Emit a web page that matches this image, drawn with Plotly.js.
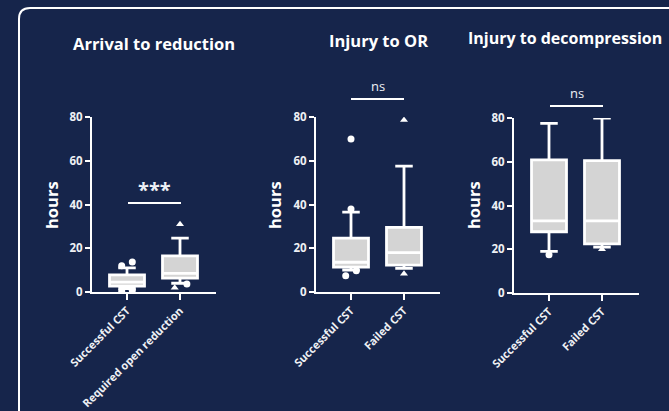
<!DOCTYPE html>
<html><head><meta charset="utf-8">
<script src="https://cdn.plot.ly/plotly-3.0.1.min.js"></script>
<style>html,body{margin:0;padding:0;background:#16254b;}#c{width:669px;height:411px;}</style>
</head><body><div id="c"></div>
<script>
// ---- data ----
const titles = ["Arrival to reduction", "Injury to OR", "Injury to decompression"];
const cats1 = ["Successful CST", "Required open reduction"];
const cats2 = ["Successful CST", "Failed CST"];
const cats3 = ["Successful CST", "Failed CST"];
const sig = ["***", "ns", "ns"];

// box statistics per panel: [group0, group1]
const q1_1 = [2.7, 6.3],  med1 = [4.5, 8.5],  q3_1 = [7.8, 16.5],  lo1 = [1.5, 4.0],  hi1 = [11.0, 24.6];
const q1_2 = [11.4, 12.3], med2 = [13.6, 18.0], q3_2 = [24.6, 29.5], lo2 = [10.0, 10.8], hi2 = [36.5, 57.5];
const q1_3 = [28.0, 22.5], med3 = [33.0, 33.0], q3_3 = [60.9, 60.5], lo3 = [19.0, 21.0], hi3 = [77.5, 80.0];

// outliers: group index, small horizontal jitter, value, symbol
const out1G = [0, 0, 0, 0, 1, 1, 1];
const out1J = [-0.1, 0.1, -0.1, 0.1, 0, 0.13, -0.1];
const out1V = [12.0, 13.7, 0.5, 0.8, 31.0, 3.7, 2.0];
const out1S = ["circle","circle","circle","circle","triangle-up","circle","triangle-up"];

const out2G = [0, 0, 0, 0, 1, 1];
const out2J = [0, 0, -0.1, 0.1, 0, 0];
const out2V = [70.0, 38.0, 7.4, 9.7, 78.6, 8.3];
const out2S = ["circle","circle","circle","circle","triangle-up","triangle-up"];

const out3G = [0, 1];
const out3J = [0, 0];
const out3V = [17.5, 20.0];
const out3S = ["circle","triangle-up"];

// ---- layout helpers ----
const W = 669, H = 411;
const px = x => x / W, py = y => 1 - y / H;
const WHITE = "#ffffff", TXT = "#eef0f4", BG = "#16254b";

const panels = [
  {cats: cats1, q1: q1_1, med: med1, q3: q3_1, lo: lo1, hi: hi1, oG: out1G, oJ: out1J, oV: out1V, oS: out1S,
   x0: 92, x1: 216, yTop: 117, yBot: 292, cx: [127, 180]},
  {cats: cats2, q1: q1_2, med: med2, q3: q3_2, lo: lo2, hi: hi2, oG: out2G, oJ: out2J, oV: out2V, oS: out2S,
   x0: 316, x1: 440, yTop: 117, yBot: 292, cx: [351, 404]},
  {cats: cats3, q1: q1_3, med: med3, q3: q3_3, lo: lo3, hi: hi3, oG: out3G, oJ: out3J, oV: out3V, oS: out3S,
   x0: 514, x1: 639, yTop: 118, yBot: 293, cx: [549, 602]}
];

const traces = [];
const layout = {
  width: W, height: H, margin: {l: 0, r: 0, t: 0, b: 0},
  paper_bgcolor: BG, plot_bgcolor: "rgba(0,0,0,0)",
  showlegend: false, annotations: [], shapes: [],
  font: {family: "Open Sans, sans-serif", color: TXT}
};

panels.forEach((p, i) => {
  const n = i === 0 ? "" : String(i + 1);
  const xa = "x" + n, ya = "y" + n;
  const k = p.cx[1] - p.cx[0];
  const r0 = -(p.cx[0] - p.x0) / k;
  const r1 = r0 + (p.x1 - p.x0) / k;
  traces.push({
    type: "box", xaxis: xa, yaxis: ya, x: [0, 1],
    q1: p.q1, median: p.med, q3: p.q3, lowerfence: p.lo, upperfence: p.hi,
    width: 0.66, whiskerwidth: 0.5, fillcolor: "#d4d4d4",
    line: {color: WHITE, width: 2.8}, boxpoints: false, hoverinfo: "skip"
  });
  traces.push({
    type: "scatter", mode: "markers", xaxis: xa, yaxis: ya,
    x: p.oG.map((g, j) => g + p.oJ[j]), y: p.oV,
    marker: {color: WHITE, size: 7, symbol: p.oS, line: {width: 0}}, hoverinfo: "skip"
  });
  layout["xaxis" + n] = {
    domain: [px(p.x0), px(p.x1)], anchor: ya, range: [r0, r1],
    tickvals: [0, 1], ticktext: p.cats, tickangle: -45,
    showgrid: false, zeroline: false, showline: true, linecolor: WHITE, linewidth: 2,
    ticks: "outside", ticklen: 6, tickwidth: 2, tickcolor: WHITE,
    tickfont: {family: "Open Sans, sans-serif", size: 11, color: TXT, weight: "bold"}
  };
  layout["yaxis" + n] = {
    domain: [py(p.yBot), py(p.yTop)], anchor: xa, range: [0, 80],
    tickvals: [0, 20, 40, 60, 80],
    showgrid: false, zeroline: false, showline: true, linecolor: WHITE, linewidth: 2,
    ticks: "outside", ticklen: 5, tickwidth: 2, tickcolor: WHITE,
    tickfont: {family: "Open Sans, sans-serif", size: 11.5, color: TXT, weight: "bold"}
  };
});

// titles
const tpos = [[154, 44, "center", 16.5], [378, 40, "center", 16.5], [664, 38, "right", 16]];
titles.forEach((t, i) => layout.annotations.push({
  text: t, xref: "paper", yref: "paper", x: px(tpos[i][0]), y: py(tpos[i][1]),
  xanchor: tpos[i][2], yanchor: "middle", showarrow: false,
  font: {size: tpos[i][3], color: WHITE, weight: "bold"}
}));
// y labels
[52, 275, 474].forEach(x => layout.annotations.push({
  text: "hours", xref: "paper", yref: "paper", x: px(x), y: py(205),
  xanchor: "center", yanchor: "middle", showarrow: false, textangle: -90,
  font: {size: 16.5, color: WHITE, weight: "bold"}
}));
// significance
const sigPos = [[128, 181, 203, 189, 20], [351, 404, 99, 86, 13], [550, 603, 106, 93, 13]];
sig.forEach((s, i) => {
  const [a, b, ly, ty, fs] = sigPos[i];
  layout.shapes.push({type: "line", xref: "paper", yref: "paper",
    x0: px(a), x1: px(b), y0: py(ly), y1: py(ly), line: {color: WHITE, width: 2}});
  layout.annotations.push({text: s, xref: "paper", yref: "paper",
    x: px((a + b) / 2), y: py(ty), xanchor: "center", yanchor: "middle", showarrow: false,
    font: {size: fs, color: TXT, weight: i === 0 ? "bold" : "normal"}});
});
// rounded frame
const L = 19, T = 8, R = 690, B = 412, rr = 11;
const path = `M ${px(L)},${py(B)} L ${px(L)},${py(T + rr)} Q ${px(L)},${py(T)} ${px(L + rr)},${py(T)} L ${px(R)},${py(T)}`;
layout.shapes.push({type: "path", xref: "paper", yref: "paper", path: path,
  line: {color: WHITE, width: 2}});

Plotly.newPlot("c", traces, layout, {displayModeBar: false, staticPlot: true});
</script></body></html>
